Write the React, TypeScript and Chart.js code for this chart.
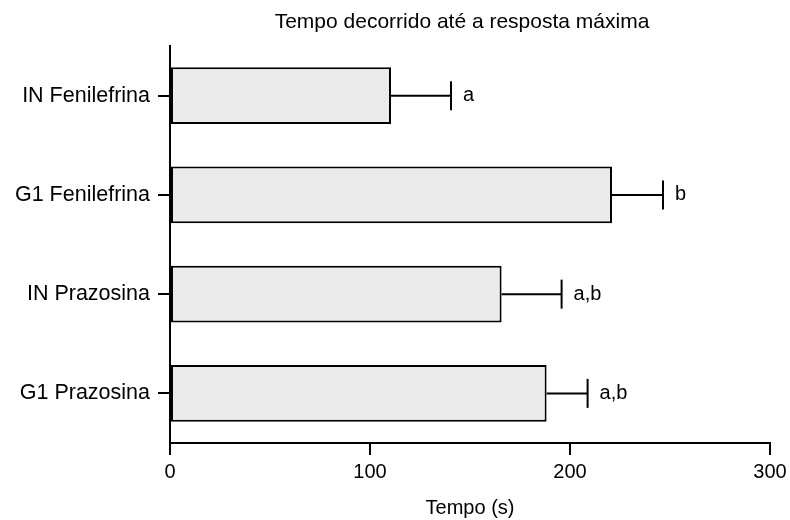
import React, { useEffect, useRef } from 'react';
import { Chart, registerables } from 'chart.js';

Chart.register(...registerables);

const categories = ['IN Fenilefrina', 'G1 Fenilefrina', 'IN Prazosina', 'G1 Prazosina'];
const means = [110.5, 221, 165.8, 188.3];
const errors = [30, 25.5, 30, 20.5];
const sigLabels = ['a', 'b', 'a,b', 'a,b'];
const xTicks = [0, 100, 200, 300];
const titleText = 'Tempo decorrido até a resposta máxima';
const xTitle = 'Tempo (s)';

const FAMILY = '"Liberation Sans", Arial, sans-serif';

const errorBarPlugin = {
  id: 'errorBars',
  afterDatasetsDraw(chart: any) {
    const ctx = chart.ctx;
    const xs = chart.scales.x;
    const ys = chart.scales.y;
    ctx.save();
    ctx.strokeStyle = '#000';
    ctx.lineWidth = 2;
    ctx.fillStyle = '#000';
    ctx.font = `20px ${FAMILY}`;
    ctx.textAlign = 'left';
    ctx.textBaseline = 'middle';
    means.forEach((m, i) => {
      const yc = ys.getPixelForValue(i);
      const x0 = xs.getPixelForValue(m);
      const x1 = xs.getPixelForValue(m + errors[i]);
      ctx.beginPath();
      ctx.moveTo(x0, yc);
      ctx.lineTo(x1, yc);
      ctx.stroke();
      ctx.beginPath();
      ctx.moveTo(x1, yc - 14.5);
      ctx.lineTo(x1, yc + 14.5);
      ctx.stroke();
      ctx.fillText(sigLabels[i], x1 + 12, yc);
    });
    ctx.restore();
  },
};

const titlePlugin = {
  id: 'customTitle',
  afterDraw(chart: any) {
    const ctx = chart.ctx;
    const { left, right } = chart.chartArea;
    ctx.save();
    ctx.fillStyle = '#000';
    ctx.font = `21px ${FAMILY}`;
    ctx.textAlign = 'center';
    ctx.textBaseline = 'middle';
    ctx.fillText(titleText, (left + right) / 2 - 8, 22);
    ctx.restore();
  },
};

export default function App() {
  const ref = useRef<HTMLCanvasElement>(null);

  useEffect(() => {
    if (!ref.current) return;
    const chart = new Chart(ref.current, {
      type: 'bar',
      data: {
        labels: categories,
        datasets: [
          {
            data: means,
            backgroundColor: '#ebebeb',
            borderColor: '#000',
            borderWidth: 2,
            borderSkipped: false,
            barPercentage: 0.574,
            categoryPercentage: 1,
          },
        ],
      },
      options: {
        responsive: false,
        animation: false,
        indexAxis: 'y',
        layout: { padding: { top: 46, right: 20, left: 0, bottom: 0 } },
        plugins: {
          legend: { display: false },
          title: { display: false },
          tooltip: { enabled: false },
        },
        scales: {
          x: {
            type: 'linear',
            position: 'bottom',
            min: 0,
            max: 300,
            afterFit: (s: any) => {
              s.height = 77;
              s.paddingLeft = 0;
              s.paddingRight = 0;
            },
            afterBuildTicks: (s: any) => {
              s.ticks = xTicks.map((v) => ({ value: v }));
            },
            ticks: {
              color: '#000',
              font: { family: FAMILY, size: 20 },
              padding: 5,
              maxRotation: 0,
            },
            grid: {
              drawOnChartArea: false,
              drawTicks: true,
              tickLength: 12,
              color: '#000',
              lineWidth: 2,
            },
            border: { display: true, color: '#000', width: 2 },
            title: {
              display: true,
              text: xTitle,
              color: '#000',
              font: { family: FAMILY, size: 20 },
              padding: { top: 0, bottom: 0 },
            },
          },
          y: {
            type: 'category',
            position: 'left',
            offset: true,
            afterFit: (s: any) => {
              s.width = 170;
              s.paddingTop = 0;
              s.paddingBottom = 0;
            },
            ticks: {
              color: '#000',
              font: { family: FAMILY, size: 21.5 },
              padding: 8,
            },
            grid: {
              offset: false,
              drawOnChartArea: false,
              drawTicks: true,
              tickLength: 12,
              color: '#000',
              lineWidth: 2,
            },
            border: { display: true, color: '#000', width: 2 },
          },
        },
      } as any,
      plugins: [errorBarPlugin, titlePlugin],
    });
    return () => chart.destroy();
  }, []);

  return (
    <div
      style={{
        position: 'absolute',
        left: 0,
        top: 0,
        width: 790,
        height: 520,
        background: '#fff',
      }}
    >
      <canvas
        ref={ref}
        width={790}
        height={520}
        style={{ display: 'block', width: 790, height: 520 }}
      />
    </div>
  );
}
